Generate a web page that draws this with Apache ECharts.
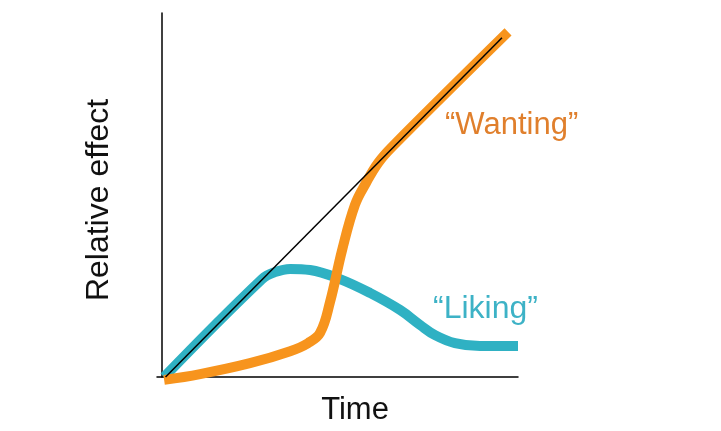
<!DOCTYPE html>
<html>
<head>
<meta charset="utf-8">
<script src="https://cdn.jsdelivr.net/npm/echarts@6/dist/echarts.min.js"></script>
<style>
  html, body { margin: 0; padding: 0; background: #fff; }
  #chart { width: 721px; height: 431px; }
</style>
</head>
<body>
<div id="chart"></div>
<script>
// Values (x: time 0-100, y: relative effect 0-100)
var diagonalLine = [[1, 0], [95.5, 93.2]];
var wantingCurve = [
  [0.6, -0.8], [10.7, 0.8], [24.7, 3.8], [36.0, 7.1], [41.0, 9.3], [44.4, 12.1],
  [47.2, 20.6], [50.6, 34.9], [54.2, 47.3], [57.3, 53.3], [60.7, 58.8], [64.6, 63.2],
  [97.2, 94.8]
];
var likingCurve = [
  [0.6, 0], [28.1, 26.9], [31.7, 28.8], [36.0, 29.7], [41.6, 29.4], [50.0, 26.9],
  [58.4, 23.1], [66.9, 18.4], [72.5, 14.3], [76.7, 11.5], [82.3, 9.3], [89.3, 8.5],
  [100, 8.5]
];

var chart = echarts.init(document.getElementById("chart"));
chart.setOption({
  animation: false,
  grid: { left: 157, right: 203, top: 13, bottom: 54, outerBoundsMode: "none" },
  xAxis: {
    type: "value",
    min: -1.4,
    max: 100,
    name: "Time",
    nameLocation: "middle",
    nameGap: 18,
    nameTextStyle: { fontFamily: "Liberation Sans", fontSize: 31, color: "#111", padding: [0, 0, 0, 35] },
    axisLine: { show: true, lineStyle: { color: "#000", width: 1.5 } },
    axisTick: { show: false },
    axisLabel: { show: false },
    splitLine: { show: false }
  },
  yAxis: {
    type: "value",
    min: 0,
    max: 100,
    name: "Relative effect",
    nameLocation: "middle",
    nameRotate: 90,
    nameGap: 42,
    nameTextStyle: { fontFamily: "Liberation Sans", fontSize: 32, color: "#111", padding: [0, 10, 0, 0] },
    axisLine: { show: true, onZero: true, lineStyle: { color: "#000", width: 1.5 } },
    axisTick: { show: false },
    axisLabel: { show: false },
    splitLine: { show: false }
  },
  series: [
    {
      name: "Liking",
      type: "line",
      data: likingCurve,
      smooth: 0.4,
      clip: false,
      showSymbol: false,
      lineStyle: { color: "#2fb1c3", width: 10, cap: "butt" }
    },
    {
      name: "Wanting",
      type: "line",
      data: wantingCurve,
      smooth: 0.4,
      clip: false,
      showSymbol: false,
      lineStyle: { color: "#f7941d", width: 10, cap: "butt" }
    },
    {
      name: "diagonal",
      type: "line",
      data: diagonalLine,
      clip: false,
      showSymbol: false,
      lineStyle: { color: "#000", width: 1.5 }
    }
  ],
  graphic: [
    {
      type: "text",
      left: 445,
      top: 110,
      style: { text: "\u201cWanting\u201d", fill: "#e07f2c", fontFamily: "Liberation Sans", fontSize: 31 }
    },
    {
      type: "text",
      left: 433,
      top: 293,
      style: { text: "\u201cLiking\u201d", fill: "#3db2c6", fontFamily: "Liberation Sans", fontSize: 32 }
    }
  ]
});
</script>
</body>
</html>
